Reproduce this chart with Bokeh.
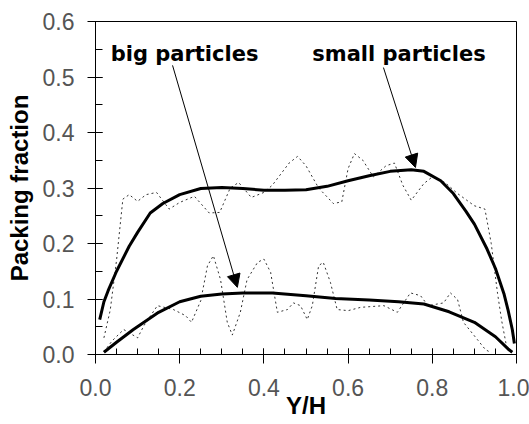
import math
from bokeh.plotting import figure
from bokeh.models import Range1d, Label, Arrow, NormalHead, FixedTicker, NumeralTickFormatter
from bokeh.embed import file_html
from bokeh.resources import INLINE

# ---- data ----
small_x = [0.01, 0.02, 0.03, 0.05, 0.08, 0.10, 0.13, 0.16, 0.20, 0.25, 0.30, 0.35, 0.40, 0.45,
           0.50, 0.55, 0.60, 0.65, 0.70, 0.75, 0.78, 0.82, 0.85, 0.88, 0.90, 0.93, 0.95, 0.97,
           0.98, 0.99, 0.995]
small_y = [0.063, 0.095, 0.115, 0.150, 0.195, 0.220, 0.255, 0.272, 0.288, 0.299, 0.301, 0.299,
           0.296, 0.296, 0.297, 0.303, 0.313, 0.322, 0.330, 0.333, 0.330, 0.313, 0.290, 0.258,
           0.235, 0.190, 0.155, 0.110, 0.080, 0.045, 0.020]

big_x = [0.02, 0.05, 0.09, 0.15, 0.20, 0.25, 0.30, 0.35, 0.42, 0.50, 0.57, 0.65, 0.72, 0.78,
         0.84, 0.90, 0.95, 0.98, 0.99]
big_y = [0.004, 0.022, 0.045, 0.076, 0.095, 0.105, 0.109, 0.111, 0.111, 0.106, 0.101, 0.098,
         0.095, 0.091, 0.077, 0.058, 0.032, 0.010, 0.004]

small_raw_x = [0.02, 0.035, 0.05, 0.065, 0.08, 0.10, 0.12, 0.145, 0.175, 0.20, 0.235, 0.27,
               0.295, 0.32, 0.34, 0.37, 0.40, 0.42, 0.46, 0.48, 0.50, 0.53, 0.565, 0.585, 0.60,
               0.615, 0.635, 0.66, 0.69, 0.71, 0.73, 0.75, 0.78, 0.80, 0.83, 0.86, 0.90, 0.925,
               0.94, 0.955, 0.965, 0.975]
small_raw_y = [0.030, 0.080, 0.170, 0.280, 0.288, 0.276, 0.288, 0.292, 0.262, 0.274, 0.285,
               0.255, 0.256, 0.300, 0.310, 0.283, 0.292, 0.305, 0.345, 0.357, 0.340, 0.300,
               0.272, 0.275, 0.335, 0.362, 0.350, 0.320, 0.340, 0.345, 0.305, 0.278, 0.308,
               0.320, 0.310, 0.290, 0.268, 0.262, 0.200, 0.110, 0.060, 0.020]

big_raw_x = [0.02, 0.04, 0.067, 0.10, 0.115, 0.147, 0.185, 0.214, 0.228, 0.25, 0.266, 0.28,
             0.297, 0.313, 0.325, 0.344, 0.36, 0.385, 0.40, 0.416, 0.432, 0.456, 0.47, 0.487,
             0.503, 0.515, 0.53, 0.541, 0.558, 0.574, 0.60, 0.63, 0.685, 0.717, 0.748, 0.772,
             0.79, 0.827, 0.843, 0.86, 0.874, 0.907, 0.926, 0.94]
big_raw_y = [0.005, 0.025, 0.045, 0.030, 0.052, 0.088, 0.081, 0.070, 0.058, 0.097, 0.160,
             0.178, 0.135, 0.058, 0.035, 0.076, 0.135, 0.166, 0.172, 0.148, 0.076, 0.081,
             0.093, 0.088, 0.063, 0.088, 0.160, 0.166, 0.130, 0.081, 0.079, 0.085, 0.088,
             0.076, 0.111, 0.106, 0.088, 0.093, 0.111, 0.099, 0.058, 0.027, 0.009, 0.003]

x_ticks = [0.0, 0.2, 0.4, 0.6, 0.8, 1.0]
y_ticks = [0.0, 0.1, 0.2, 0.3, 0.4, 0.5, 0.6]
x_title = "Y/H"
y_title = "Packing fraction"

label_big = "big particles"
label_small = "small particles"
arrow_big = (0.183, 0.521, 0.337, 0.121)
arrow_small = (0.684, 0.517, 0.760, 0.337)

p = figure(width=529, height=424, output_backend="svg", toolbar_location=None,
           x_range=Range1d(0, 1.0), y_range=Range1d(0, 0.6),
           min_border_left=95, min_border_right=13, min_border_top=21, min_border_bottom=70)
p.background_fill_color = "white"
p.border_fill_color = "white"
p.grid.visible = False
p.outline_line_color = "black"
p.outline_line_width = 1

# axes
tick_font = "Liberation Sans"
p.xaxis.ticker = FixedTicker(ticks=x_ticks, minor_ticks=[i * 0.05 for i in range(21)])
p.yaxis.ticker = FixedTicker(ticks=y_ticks, minor_ticks=[i * 0.05 for i in range(13)])
for ax in (p.xaxis[0], p.yaxis[0]):
    ax.formatter = NumeralTickFormatter(format="0.0")
    ax.major_label_text_font = tick_font
    ax.major_label_text_font_size = "23px"
    ax.major_label_text_color = "#555555"
    ax.axis_line_color = "black"
    ax.major_tick_line_color = "black"
    ax.minor_tick_line_color = "black"
    ax.minor_tick_out = 0
    ax.axis_label_text_font = "Liberation Sans"
    ax.axis_label_text_font_style = "bold"
    ax.axis_label_text_font_size = "24px"
    ax.axis_label_text_color = "black"
p.xaxis.axis_label = x_title
p.yaxis.axis_label = y_title
p.xaxis.major_tick_out = 9
p.xaxis.major_tick_in = 6
p.xaxis.minor_tick_in = 6
p.xaxis.major_label_standoff = 15
p.xaxis.axis_label_standoff = -7
p.yaxis.major_tick_out = 8
p.yaxis.major_tick_in = 7
p.yaxis.minor_tick_in = 7
p.yaxis.major_label_standoff = 13
p.yaxis.axis_label_standoff = 7

# dotted raw profiles
p.line(small_raw_x, small_raw_y, line_color="#333333", line_width=1, line_dash="2 3")
p.line(big_raw_x, big_raw_y, line_color="#333333", line_width=1, line_dash="2 3")
# smooth profiles
p.line(small_x, small_y, line_color="black", line_width=3)
p.line(big_x, big_y, line_color="black", line_width=3)

# annotations
ann_font = "DejaVu Sans"
p.add_layout(Label(x=0.036, y=0.541, text=label_big, text_font=ann_font, text_font_style="bold",
                   text_font_size="21px", text_color="black", text_baseline="alphabetic"))
p.add_layout(Label(x=0.515, y=0.541, text=label_small, text_font=ann_font, text_font_style="bold",
                   text_font_size="21px", text_color="black", text_baseline="alphabetic"))
for (x0, y0, x1, y1) in (arrow_big, arrow_small):
    p.add_layout(Arrow(x_start=x0, y_start=y0, x_end=x1, y_end=y1, line_color="black", line_width=1,
                       end=NormalHead(size=13, fill_color="black", line_color="black", line_width=1)))

open("out.html", "w").write(file_html(p, INLINE))
